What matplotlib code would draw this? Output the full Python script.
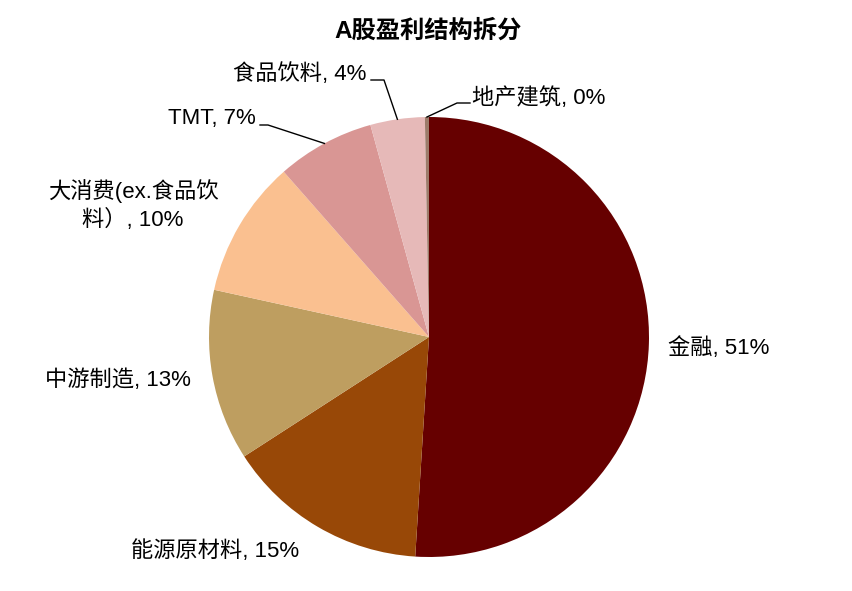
import numpy as np
import matplotlib.pyplot as plt

plt.rcParams['font.family'] = ['Liberation Sans', 'Noto Sans CJK SC']

sectors = ["金融", "能源原材料", "中游制造", "大消费(ex.食品饮\n料）", "TMT", "食品饮料", "地产建筑"]
shares = [51.1, 14.9, 12.6, 10.1, 7.2, 4.0, 0.3]
colors = ["#660000", "#984807", "#BE9E60", "#FAC090", "#D99694", "#E6B9B8", "#9C7B6A"]

W, H = 853, 591
CX, CY, R = 429, 337, 220


def px(x, y):
    # pixel position -> data coordinates (pie radius = 1)
    return (x - CX) / R, (CY - y) / R


# label layout: text anchor (pixels), alignment, optional leader knee (pixels)
layout = [
    ((668, 348), "left", None),
    ((215, 551), "center", None),
    ((118, 380), "center", None),
    ((133, 205), "center", None),
    ((256, 118), "right", ((260, 125), (268, 125))),
    ((366, 74), "right", ((371, 80), (384, 80))),
    ((472, 98), "left", ((470, 103), (457, 103))),
]


def main():
    fig = plt.figure(figsize=(W / 100, H / 100), dpi=100)
    ax = fig.add_axes([0, 0, 1, 1])

    wedges, _ = ax.pie(shares, colors=colors, startangle=90, counterclock=False,
                       radius=1, center=(0, 0), frame=True)
    ax.set_xlim(-CX / R, (W - CX) / R)
    ax.set_ylim(-(H - CY) / R, CY / R)
    ax.set_aspect("equal")
    ax.axis("off")

    total = sum(shares)
    for w, name, v, (pos, ha, leader) in zip(wedges, sectors, shares, layout):
        label = f"{name}, {v / total * 100:.0f}%"
        tx, ty = px(*pos)
        ax.text(tx, ty, label, ha=ha, va="center", fontsize=16,
                multialignment="center", linespacing=1.3, color="black")
        if leader is not None:
            mid = np.deg2rad((w.theta1 + w.theta2) / 2)
            p0 = px(*leader[0])
            p1 = px(*leader[1])
            ax.plot([p0[0], p1[0], np.cos(mid)], [p0[1], p1[1], np.sin(mid)],
                    color="black", lw=1)

    fig.text(428 / W, 1 - 31 / H, "A股盈利结构拆分", ha="center", va="center",
             fontsize=17.5, fontweight="bold")

    fig.savefig("out.png", dpi=100)


if __name__ == "__main__":
    main()
